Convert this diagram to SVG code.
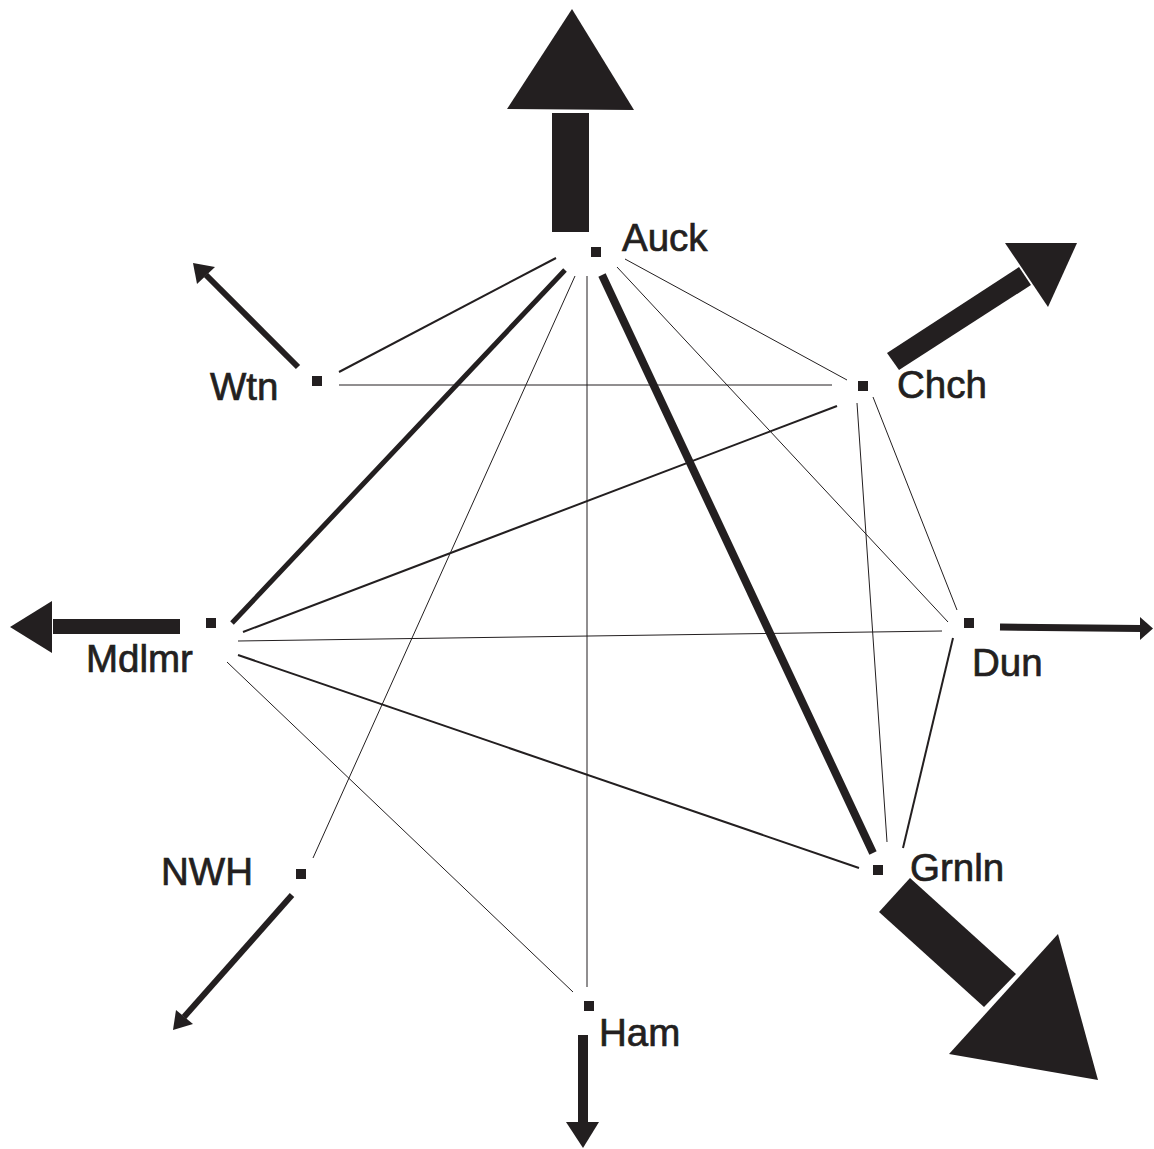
<svg xmlns="http://www.w3.org/2000/svg" width="1154" height="1149" viewBox="0 0 1154 1149">
  <style>
    .bg { fill: #ffffff; }
    .node rect { fill: #231f20; }
    .node text { font-family: "Liberation Sans", Arial, Helvetica, sans-serif; font-size: 38.5px; fill: #231f20; stroke: #231f20; stroke-width: 0.7px; }
    .link { stroke: #231f20; fill: none; stroke-linecap: butt; }
    .w1 { stroke-width: 1; }
    .w2 { stroke-width: 2; }
    .w5 { stroke-width: 5; }
    .w8 { stroke-width: 8; }
    .flow { fill: #231f20; }
    .flow line { stroke: #231f20; }
  </style>
  <rect class="bg" x="0" y="0" width="1154" height="1149"/>

  <!-- links between places -->
  <g id="connectors">
    <line class="link w2" x1="556" y1="258" x2="339" y2="372"/>
    <line class="link w5" x1="565" y1="270" x2="232" y2="623"/>
    <line class="link w1" x1="575" y1="276" x2="313" y2="858"/>
    <line class="link w1" x1="587" y1="276" x2="587" y2="987"/>
    <line class="link w8" x1="602" y1="275" x2="873" y2="853"/>
    <line class="link w1" x1="625" y1="259" x2="847" y2="380"/>
    <line class="link w1" x1="617" y1="267" x2="948" y2="622"/>
    <line class="link w1" x1="339" y1="385" x2="832" y2="385"/>
    <line class="link w2" x1="837" y1="406" x2="243" y2="632"/>
    <line class="link w1" x1="857" y1="403" x2="887" y2="842"/>
    <line class="link w1" x1="873" y1="397" x2="957" y2="610"/>
    <line class="link w1" x1="238" y1="641" x2="942" y2="631"/>
    <line class="link w2" x1="238" y1="655" x2="859" y2="868"/>
    <line class="link w1" x1="227" y1="662" x2="573" y2="992"/>
    <line class="link w2" x1="953" y1="638" x2="903" y2="848"/>
  </g>

  <!-- outward flows -->
  <g id="flows" class="flow">
    <g id="flow-auck">
      <rect x="552" y="113" width="37" height="119"/>
      <polygon points="572,9 507,109 634,110"/>
    </g>
    <g id="flow-chch">
      <polygon points="887,353 899,370 1031,285 1019,267"/>
      <polygon points="1005,243 1077,243 1048,307"/>
    </g>
    <g id="flow-wtn">
      <line x1="298" y1="367" x2="206" y2="275" stroke-width="6"/>
      <polygon points="193,263 197,284 215,267"/>
    </g>
    <g id="flow-mdlmr">
      <rect x="53" y="619" width="127" height="15"/>
      <polygon points="10,627 52,601 52,653"/>
    </g>
    <g id="flow-dun">
      <line x1="1000" y1="627" x2="1141" y2="628.5" stroke-width="7"/>
      <polygon points="1140,617 1140,640 1153,628.5"/>
    </g>
    <g id="flow-nwh">
      <line x1="292" y1="895" x2="184" y2="1017" stroke-width="6"/>
      <polygon points="173,1030 176,1010 193,1024"/>
    </g>
    <g id="flow-ham">
      <rect x="578" y="1035" width="10" height="87"/>
      <polygon points="566,1122 599,1122 583,1148"/>
    </g>
    <g id="flow-grnln">
      <polygon points="879,912 910,878 1016,974 984,1007"/>
      <polygon points="1058,934 949,1054 1098,1080"/>
    </g>
  </g>

  <!-- places -->
  <g id="node-auck" class="node">
    <rect x="591" y="247" width="10" height="10"/>
    <text x="622" y="251">Auck</text>
  </g>
  <g id="node-chch" class="node">
    <rect x="858" y="381" width="10" height="10"/>
    <text x="897" y="398">Chch</text>
  </g>
  <g id="node-wtn" class="node">
    <rect x="312" y="376" width="10" height="10"/>
    <text x="210" y="400">Wtn</text>
  </g>
  <g id="node-mdlmr" class="node">
    <rect x="206" y="618" width="10" height="10"/>
    <text x="86" y="672">Mdlmr</text>
  </g>
  <g id="node-dun" class="node">
    <rect x="964" y="618" width="10" height="10"/>
    <text x="972" y="676">Dun</text>
  </g>
  <g id="node-nwh" class="node">
    <rect x="296" y="869" width="10" height="10"/>
    <text x="161" y="885">NWH</text>
  </g>
  <g id="node-ham" class="node">
    <rect x="584" y="1001" width="10" height="10"/>
    <text x="599" y="1046">Ham</text>
  </g>
  <g id="node-grnln" class="node">
    <rect x="873" y="865" width="10" height="10"/>
    <text x="910" y="881">Grnln</text>
  </g>
</svg>
